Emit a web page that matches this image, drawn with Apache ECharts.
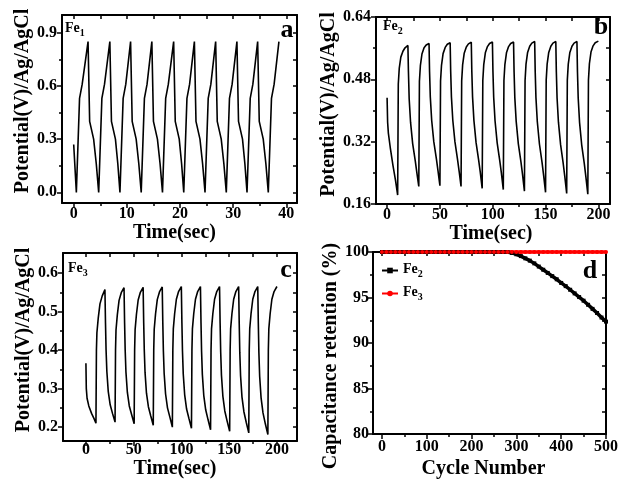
<!DOCTYPE html>
<html><head><meta charset="utf-8">
<script src="https://cdn.jsdelivr.net/npm/echarts@6/dist/echarts.min.js"></script>
<style>html,body{margin:0;padding:0;background:#fff}#c{width:623px;height:481px}</style>
</head><body><div id="c"></div>
<script>
const FONT = '"Liberation Serif", "Times New Roman", serif';

// ---- Panel a : Fe1 galvanostatic charge/discharge ----
const fe1Time = [0,
 0.5,1.1,1.6,2.7,3.0,3.75,4.25,
 4.7,5.3,5.8,6.8,7.1,7.85,8.3,
 8.7,9.3,9.8,10.7,11.0,11.75,12.25,
 12.7,13.3,13.8,14.7,15.0,15.75,16.25,
 16.7,17.3,17.8,18.8,19.1,19.85,20.3,
 20.7,21.3,21.8,22.7,23.0,23.75,24.25,
 24.7,25.3,25.8,26.7,27.0,27.75,28.25,
 28.7,29.3,29.8,30.7,31.0,31.75,32.2,
 32.6,33.2,33.7,34.6,34.9,35.65,36.15,
 36.6,37.2,37.7,38.6];
const fe1Potential = [0.27,
 0,0.53,0.61,0.85,0.40,0.30,0.16,
 0,0.53,0.61,0.85,0.40,0.30,0.16,
 0,0.53,0.61,0.85,0.40,0.30,0.16,
 0,0.53,0.61,0.85,0.40,0.30,0.16,
 0,0.53,0.61,0.85,0.40,0.30,0.16,
 0,0.53,0.61,0.85,0.40,0.30,0.16,
 0,0.53,0.61,0.85,0.40,0.30,0.16,
 0,0.53,0.61,0.85,0.40,0.30,0.16,
 0,0.53,0.61,0.85,0.40,0.30,0.16,
 0,0.53,0.61,0.85];

// ---- Panel b : Fe2 ----
const fe2Time = [0,0.5,1.2,3,5.5,8,
 10,10.6,11.5,13,15,17,19.7,20.2,20.9,22.2,24.2,26.7,28.2,
 30,30.6,31.5,33,35,37,39.7,40.2,40.9,42.2,44.2,46.7,48.2,
 50,50.6,51.5,53,55,57,59.7,60.2,60.9,62.2,64.2,66.7,68.2,
 70,70.6,71.5,73,75,77,79.7,80.2,80.9,82.2,84.2,86.7,88.2,
 90,90.6,91.5,93,95,97,99.7,100.2,100.9,102.2,104.2,106.7,108.2,
 110,110.6,111.5,113,115,117,119.7,120.2,120.9,122.2,124.2,126.7,128.2,
 130,130.6,131.5,133,135,137,139.7,140.2,140.9,142.2,144.2,146.7,148.2,
 150,150.6,151.5,153,155,157,159.7,160.2,160.9,162.2,164.2,166.7,168.2,
 170,170.6,171.5,173,175,177,179.7,180.2,180.9,182.2,184.2,186.7,188.2,
 190,190.6,191.5,193,195,197,200];
const fe2Potential = [0.433,0.37,0.342,0.305,0.26,0.22,
 0.183,0.468,0.508,0.537,0.552,0.561,0.567,0.50,0.43,0.37,0.315,0.27,0.24,
 0.205,0.475,0.515,0.545,0.561,0.568,0.572,0.50,0.435,0.375,0.32,0.275,0.245,
 0.207,0.476,0.516,0.546,0.562,0.570,0.574,0.50,0.435,0.375,0.32,0.274,0.244,
 0.205,0.476,0.517,0.547,0.563,0.571,0.575,0.50,0.435,0.374,0.318,0.272,0.242,
 0.200,0.477,0.518,0.548,0.564,0.572,0.576,0.50,0.434,0.373,0.317,0.27,0.239,
 0.197,0.477,0.518,0.548,0.564,0.572,0.576,0.50,0.433,0.372,0.315,0.268,0.236,
 0.193,0.477,0.519,0.549,0.565,0.573,0.577,0.50,0.433,0.371,0.314,0.266,0.233,
 0.190,0.478,0.519,0.549,0.565,0.573,0.577,0.50,0.432,0.370,0.313,0.264,0.231,
 0.187,0.478,0.519,0.549,0.565,0.573,0.577,0.50,0.432,0.369,0.312,0.263,0.229,
 0.185,0.478,0.52,0.55,0.566,0.574,0.578];

// ---- Panel c : Fe3 ----
const fe3Time = [0,0.4,1.2,3,6,8.5,
 10.5,11,11.5,12.9,14.7,17,19.9,20.5,21.1,21.9,23.4,25.4,27.9,
 30.5,31,31.5,32.9,34.7,37,39.9,40.5,41.1,41.9,43.4,45.4,47.9,
 50.5,51,51.5,52.9,54.7,57,59.9,60.5,61.1,61.9,63.4,65.4,67.9,
 70.5,71,71.5,72.9,74.7,77,79.9,80.5,81.1,81.9,83.4,85.4,87.9,
 90.5,91,91.5,92.9,94.7,97,99.9,100.5,101.1,101.9,103.4,105.4,107.9,
 110.5,111,111.5,112.9,114.7,117,119.9,120.5,121.1,121.9,123.4,125.4,127.9,
 130.5,131,131.5,132.9,134.7,137,139.9,140.5,141.1,141.9,143.4,145.4,147.9,
 150.5,151,151.5,152.9,154.7,157,159.9,160.5,161.1,161.9,163.4,165.4,167.9,
 170.5,171,171.5,172.9,174.7,177,179.9,180.5,181.1,181.9,183.4,185.4,187.9,
 190.5,191,191.5,192.9,194.7,197,200];
const fe3Potential = [0.366,0.30,0.275,0.255,0.235,0.222,
 0.210,0.40,0.445,0.483,0.520,0.540,0.557,0.47,0.40,0.345,0.292,0.258,0.235,
 0.213,0.40,0.452,0.492,0.529,0.549,0.562,0.47,0.40,0.343,0.290,0.255,0.232,
 0.209,0.40,0.453,0.493,0.530,0.550,0.563,0.47,0.40,0.342,0.288,0.253,0.229,
 0.205,0.40,0.454,0.494,0.531,0.551,0.564,0.47,0.398,0.340,0.286,0.250,0.226,
 0.200,0.40,0.455,0.495,0.532,0.552,0.565,0.47,0.397,0.338,0.284,0.247,0.222,
 0.197,0.40,0.455,0.495,0.532,0.552,0.565,0.47,0.396,0.337,0.282,0.245,0.219,
 0.193,0.40,0.455,0.495,0.532,0.552,0.565,0.47,0.395,0.335,0.280,0.242,0.215,
 0.189,0.40,0.455,0.495,0.532,0.552,0.565,0.47,0.394,0.334,0.278,0.240,0.212,
 0.185,0.40,0.455,0.495,0.532,0.552,0.565,0.47,0.393,0.332,0.276,0.237,0.208,
 0.181,0.40,0.455,0.495,0.532,0.552,0.565];

// ---- Panel d : capacitance retention ----
const cycleNumber = [0,10,20,30,40,50,60,70,80,90,100,110,120,130,140,150,160,170,180,190,200,
 210,220,230,240,250,260,270,280,290,300,310,320,330,340,350,360,370,380,390,400,
 410,420,430,440,450,460,470,480,490,500];
const fe2Retention = [100,100,100,100,100,100,100,100,100,100,100,100,100,100,100,100,100,100,100,100,100,
 100,100,100,100,100,100,100,100,99.9,99.75,99.55,99.3,99.05,98.75,98.4,98.05,97.7,97.35,97.0,96.6,
 96.25,95.85,95.45,95.05,94.65,94.2,93.75,93.3,92.8,92.35];
const fe3Retention = [100,100,100,100,100,100,100,100,100,100,100,100,100,100,100,100,100,100,100,100,100,
 100,100,100,100,100,100,100,100,100,100,100,100,100,100,100,100,100,100,100,100,
 100,100,100,100,100,100,100,100,100,100];

// tick labels
const timeTicksA = [0,10,20,30,40];
const timeTicksBC = [0,50,100,150,200];
const cycleTicks = [0,100,200,300,400,500];
const potTicksA = [0,0.3,0.6,0.9];
const potTicksB = [0.16,0.32,0.48,0.64];
const potTicksC = [0.2,0.3,0.4,0.5,0.6];
const retTicks = [80,85,90,95,100];
const timeMinorA = [5,15,25,35];
const timeMinorBC = [25,75,125,175];
const cycleMinor = [50,150,250,350,450];
const potMinorA = [0.15,0.45,0.75];
const potMinorB = [0.24,0.40,0.56];
const potMinorC = [0.25,0.35,0.45,0.55];
const retMinor = [82.5,87.5,92.5,97.5];

const xAxes = [], yAxes = [];
const labelStyle = {fontFamily: FONT, fontWeight: 'bold', fontSize: 16, color: '#000'};
function mainAxis(isY, g, min, max, major, fmt, name, gap, margin, namePad) {
  return {
    type: 'value', gridIndex: g, position: isY ? 'left' : 'bottom', min, max,
    splitLine: {show: false},
    axisLine: {show: true, onZero: false, lineStyle: {color: '#000', width: 2}},
    axisTick: {show: true, inside: false, length: 5, customValues: major, lineStyle: {color: '#000', width: 1.5}},
    axisLabel: Object.assign({show: true, customValues: major, formatter: fmt, margin}, labelStyle),
    name, nameLocation: 'middle', nameGap: gap, nameRotate: isY ? 90 : 0,
    nameTextStyle: {fontFamily: FONT, fontWeight: 'bold', fontSize: 20, color: '#000', padding: namePad}
  };
}
function minorAxis(isY, g, min, max, minor) {
  return {
    type: 'value', gridIndex: g, position: isY ? 'left' : 'bottom', min, max,
    splitLine: {show: false}, axisLine: {show: false, onZero: false},
    axisTick: {show: true, inside: false, length: 3, customValues: minor, lineStyle: {color: '#000', width: 1.5}},
    axisLabel: {show: false}
  };
}
function mirrorAxis(isY, g, min, max, ticks) {
  return {
    type: 'value', gridIndex: g, position: isY ? 'right' : 'top', min, max,
    splitLine: {show: false},
    axisLine: {show: true, onZero: false, lineStyle: {color: '#000', width: 2}},
    axisTick: {show: true, inside: true, length: 4, customValues: ticks, lineStyle: {color: '#000', width: 1.5}},
    axisLabel: {show: false}
  };
}
function addPanel(g, p) {
  const xi = xAxes.length, yi = yAxes.length;
  xAxes.push(mainAxis(false, g, p.xMin, p.xMax, p.xMajor, p.xFmt, p.xName, p.xGap, p.xMargin, p.xPad));
  xAxes.push(minorAxis(false, g, p.xMin, p.xMax, p.xMinor));
  xAxes.push(mirrorAxis(false, g, p.xMin, p.xMax, p.xMajor.concat(p.xMinor)));
  yAxes.push(mainAxis(true, g, p.yMin, p.yMax, p.yMajor, p.yFmt, p.yName, p.yGap, p.yMargin, p.yPad));
  yAxes.push(minorAxis(true, g, p.yMin, p.yMax, p.yMinor));
  yAxes.push(mirrorAxis(true, g, p.yMin, p.yMax, p.yMajor.concat(p.yMinor)));
  return {xi, yi};
}
const potName = 'Potential(V)/Ag/AgCl';
const A = addPanel(0, {xMin: -2.2, xMax: 42, xMajor: timeTicksA, xMinor: timeMinorA, xFmt: v => String(v), xName: 'Time(sec)', xGap: 17, xMargin: 3, xPad: [0, 10, 0, 0],
  yMin: -0.06, yMax: 1.0, yMajor: potTicksA, yMinor: potMinorA, yFmt: v => v.toFixed(1), yName: potName, yGap: 29, yMargin: 5, yPad: [0, 0, 0, 16]});
const B = addPanel(1, {xMin: -10.5, xMax: 211, xMajor: timeTicksBC, xMinor: timeMinorBC, xFmt: v => String(v), xName: 'Time(sec)', xGap: 17, xMargin: 3, xPad: [0, 4, 0, 0],
  yMin: 0.16, yMax: 0.64, yMajor: potTicksB, yMinor: potMinorB, yFmt: v => v.toFixed(2), yName: potName, yGap: 29, yMargin: 5, yPad: [0, 0, 0, 12]});
const C = addPanel(2, {xMin: -24, xMax: 221, xMajor: timeTicksBC, xMinor: timeMinorBC, xFmt: v => String(v), xName: 'Time(sec)', xGap: 16, xMargin: 1, xPad: [0, 10, 0, 0],
  yMin: 0.164, yMax: 0.652, yMajor: potTicksC, yMinor: potMinorC, yFmt: v => v.toFixed(1), yName: potName, yGap: 29, yMargin: 5, yPad: [0, 0, 0, 14]});
const D = addPanel(3, {xMin: -20, xMax: 500, xMajor: cycleTicks, xMinor: cycleMinor, xFmt: v => String(v), xName: 'Cycle Number', xGap: 25, xMargin: 5, xPad: [0, 12, 0, 0],
  yMin: 80, yMax: 100, yMajor: retTicks, yMinor: retMinor, yFmt: v => String(v), yName: 'Capacitance retention (%)', yGap: 29, yMargin: 4, yPad: [0, 26, 0, 0]});

const zip = (xs, ys) => xs.map((x, i) => [x, ys[i]]);
const subRich = {
  m: {fontFamily: FONT, fontWeight: 'bold', fontSize: 14, color: '#000', fill: '#000', verticalAlign: 'top'},
  s: {fontFamily: FONT, fontWeight: 'bold', fontSize: 10, color: '#000', fill: '#000', verticalAlign: 'bottom', padding: [7, 0, 0, 0]}
};
function feLabel(x, y, n) {
  return {type: 'text', x, y, style: {text: '{m|Fe}{s|' + n + '}', rich: subRich, align: 'left', verticalAlign: 'middle'}};
}
function panelLetter(x, y, t) {
  return {type: 'text', x, y, style: {text: t, fontFamily: FONT, fontWeight: 'bold', fontSize: 26, fill: '#000', align: 'center', verticalAlign: 'middle'}};
}
const lineStyle = {color: '#000', width: 1.6};

const option = {
  animation: false,
  backgroundColor: '#fff',
  grid: [
    {left: 62, top: 15, width: 235, height: 188, outerBoundsMode: 'none'},
    {left: 376, top: 17, width: 234, height: 187, outerBoundsMode: 'none'},
    {left: 63, top: 253, width: 234, height: 188, outerBoundsMode: 'none'},
    {left: 373, top: 252, width: 233, height: 182, outerBoundsMode: 'none'}
  ],
  xAxis: xAxes,
  yAxis: yAxes,
  legend: {
    data: ['Fe2', 'Fe3'], orient: 'vertical', left: 376, top: 257,
    itemWidth: 16, itemHeight: 7, itemGap: 6,
    formatter: n => '{m|Fe}{s|' + n.slice(2) + '}',
    textStyle: {rich: subRich}
  },
  graphic: [
    feLabel(65, 30, '1'), feLabel(383, 28, '2'), feLabel(68, 270, '3'),
    panelLetter(287, 30, 'a'), panelLetter(601, 27, 'b'), panelLetter(286, 270, 'c'), panelLetter(590, 271, 'd')
  ],
  series: [
    {type: 'line', xAxisIndex: A.xi, yAxisIndex: A.yi, data: zip(fe1Time, fe1Potential), showSymbol: false, lineStyle, silent: true},
    {type: 'line', xAxisIndex: B.xi, yAxisIndex: B.yi, data: zip(fe2Time, fe2Potential), showSymbol: false, lineStyle, silent: true},
    {type: 'line', xAxisIndex: C.xi, yAxisIndex: C.yi, data: zip(fe3Time, fe3Potential), showSymbol: false, lineStyle, silent: true},
    {type: 'line', name: 'Fe2', xAxisIndex: D.xi, yAxisIndex: D.yi, data: zip(cycleNumber, fe2Retention), clip: false,
      symbol: 'rect', symbolSize: 4, itemStyle: {color: '#000'}, lineStyle: {color: '#000', width: 3.5}},
    {type: 'line', name: 'Fe3', xAxisIndex: D.xi, yAxisIndex: D.yi, data: zip(cycleNumber, fe3Retention), clip: false,
      symbol: 'circle', symbolSize: 4, itemStyle: {color: '#ff0000'}, lineStyle: {color: '#ff0000', width: 3.5}}
  ]
};
const chart = echarts.init(document.getElementById('c'), null, {renderer: 'canvas'});
chart.setOption(option);
</script>
</body></html>
